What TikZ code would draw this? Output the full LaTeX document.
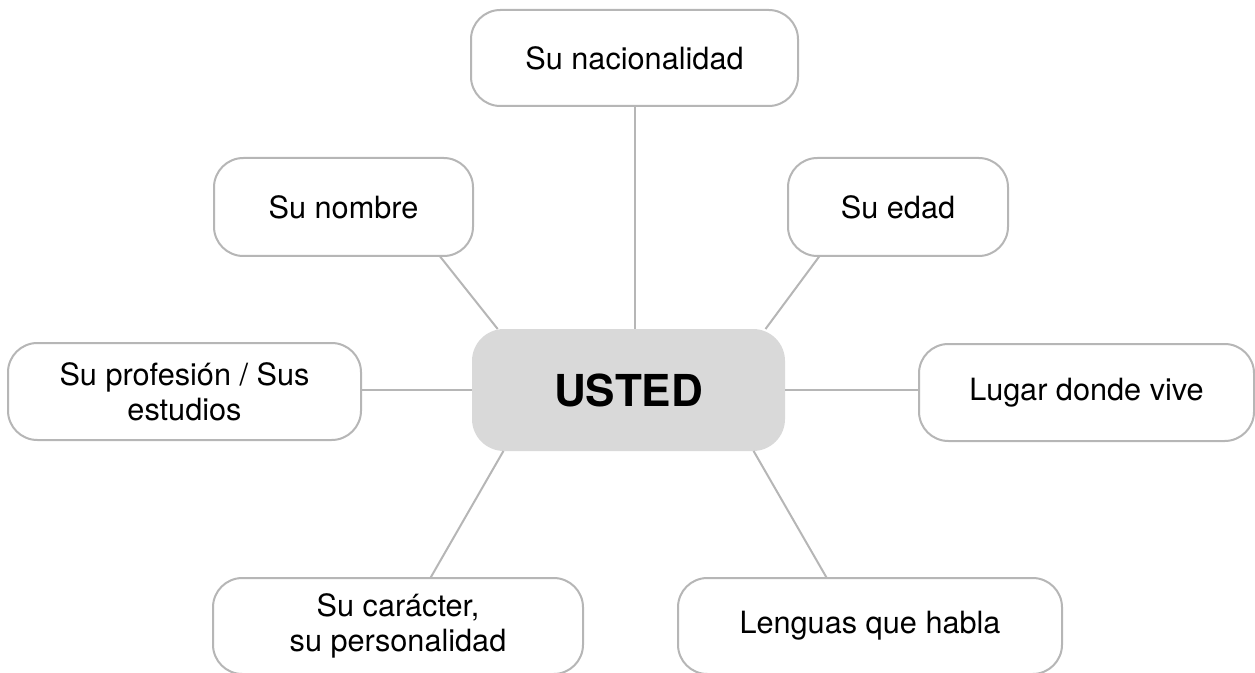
\documentclass[tikz,border=0pt]{standalone}
\usepackage{fontspec}
\setmainfont{TeX Gyre Heros}
\definecolor{borde}{RGB}{182,182,182}
\definecolor{fondo}{RGB}{217,217,217}
\begin{document}
\begin{tikzpicture}
        [x=0.75pt, y=-0.75pt,
          hoja/.style={draw=borde, line width=1.5pt, fill=white, rounded corners=22pt,
            align=center, inner sep=0pt, outer sep=0pt, font=\fontsize{23}{26}\selectfont},
          centro/.style={fill=fondo, rounded corners=24pt, inner sep=0pt, outer sep=0pt,
            minimum width=234.75pt, minimum height=91.5pt, font=\fontsize{33}{36}\selectfont\bfseries},
          rama/.style={draw=borde, line width=1.5pt}]
        \useasboundingbox (0,0) rectangle (1255,673);
        \node[centro] (usted) at (628.5,390) {USTED};
        \node[hoja, minimum width=245.25pt, minimum height=72pt] (nacionalidad) at (634.5,58) {Su nacionalidad};
        \node[hoja, minimum width=194.25pt, minimum height=73.5pt] (nombre) at (343.5,207) {Su nombre};
        \node[hoja, minimum width=165pt, minimum height=73.5pt] (edad) at (898,207) {Su edad};
        \node[hoja, minimum width=264.75pt, minimum height=72.75pt] (profesion) at (184.5,391.5) {Su profesión / Sus\\estudios};
        \node[hoja, minimum width=251.25pt, minimum height=72.75pt] (lugar) at (1086.5,392.5) {Lugar donde vive};
        \node[hoja, minimum width=277.5pt, minimum height=72pt] (caracter) at (398,626) {Su carácter,\\su personalidad};
        \node[hoja, minimum width=288pt, minimum height=72pt] (lenguas) at (870,626) {Lenguas que habla};
        % ramas
        \draw[rama] (nacionalidad.south) -- (nacionalidad.south |- usted.north);
        \draw[rama] (nombre.-27.4) -- (usted.155.4);
        \draw[rama] (edad.-148.2) -- (usted.24.5);
        \draw[rama] (usted.west) -- (usted.west -| profesion.east);
        \draw[rama] (usted.east) -- (usted.east -| lugar.west);
        \draw[rama] (caracter.56) -- (usted.-154);
        \draw[rama] (lenguas.132) -- (usted.-26);
\end{tikzpicture}
\end{document}
